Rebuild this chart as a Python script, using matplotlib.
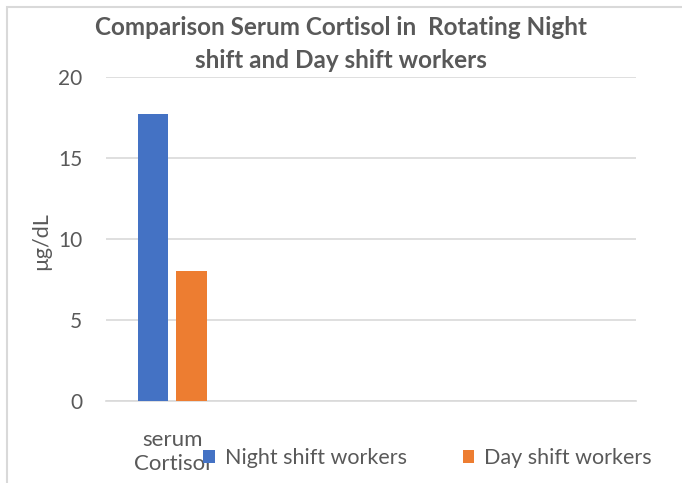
import matplotlib.pyplot as plt
import matplotlib.patches as mpatches
import numpy as np

# data
categories = ["serum\nCortisol", "", "", ""]
night_shift = [17.7, np.nan, np.nan, np.nan]
day_shift = [8.0, np.nan, np.nan, np.nan]
series_names = ["Night shift workers", "Day shift workers"]
y_ticks = [0, 5, 10, 15, 20]

blue = '#4472C4'
orange = '#ED7D31'
grid_col = '#D9D9D9'
text_col = '#595959'

plt.rcParams['font.family'] = ['Lato', 'DejaVu Sans']

fig = plt.figure(figsize=(6.82, 4.83), dpi=100)
ax = fig.add_axes([106/682, 1 - 401/483, 530/682, 324/483])

# outer chart frame
fig.patches.append(mpatches.Rectangle((7/682, -0.05), 1.0, 1 - 7/483 + 0.05,
                                      transform=fig.transFigure, fill=False,
                                      edgecolor=grid_col, linewidth=1.5))

x = np.arange(len(categories))
w = 0.23
off = 0.146
ax.bar(x - off, night_shift, w, color=blue, label=series_names[0], zorder=3)
ax.bar(x + off, day_shift, w, color=orange, label=series_names[1], zorder=3)

ax.set_xlim(-0.5, len(categories) - 0.5)
ax.set_ylim(0, 20)
ax.set_yticks(y_ticks)
ax.yaxis.grid(True, color=grid_col, linewidth=1.2, zorder=0)
for s in ['top', 'right', 'left']:
    ax.spines[s].set_visible(False)
ax.spines['bottom'].set_color(grid_col)
ax.spines['bottom'].set_linewidth(1.2)
ax.tick_params(axis='y', length=0, labelsize=15, labelcolor=text_col, pad=17)
ax.set_xticks(x)
ax.set_xticklabels(categories, fontsize=16, color=text_col, linespacing=1.25)
ax.tick_params(axis='x', length=0, pad=21)

fig.text(41/682, 1 - 241/483, "µg/dL", rotation=90, ha='center', va='center',
         fontsize=15.5, color=text_col)

fig.text(341/682, 1 - 44/483, "Comparison Serum Cortisol in  Rotating Night\nshift and Day shift workers",
         ha='center', va='center', fontsize=17.5, fontweight='bold', color=text_col,
         linespacing=1.55)

ax.legend(loc='center left', bbox_to_anchor=(203/682, 1 - 458/483),
          bbox_transform=fig.transFigure, ncol=2, frameon=False,
          borderaxespad=0, borderpad=0,
          fontsize=15.5, labelcolor=text_col, handlelength=0.55, handleheight=0.55,
          handletextpad=0.45, columnspacing=2.6)

fig.savefig("out.png", dpi=100)
